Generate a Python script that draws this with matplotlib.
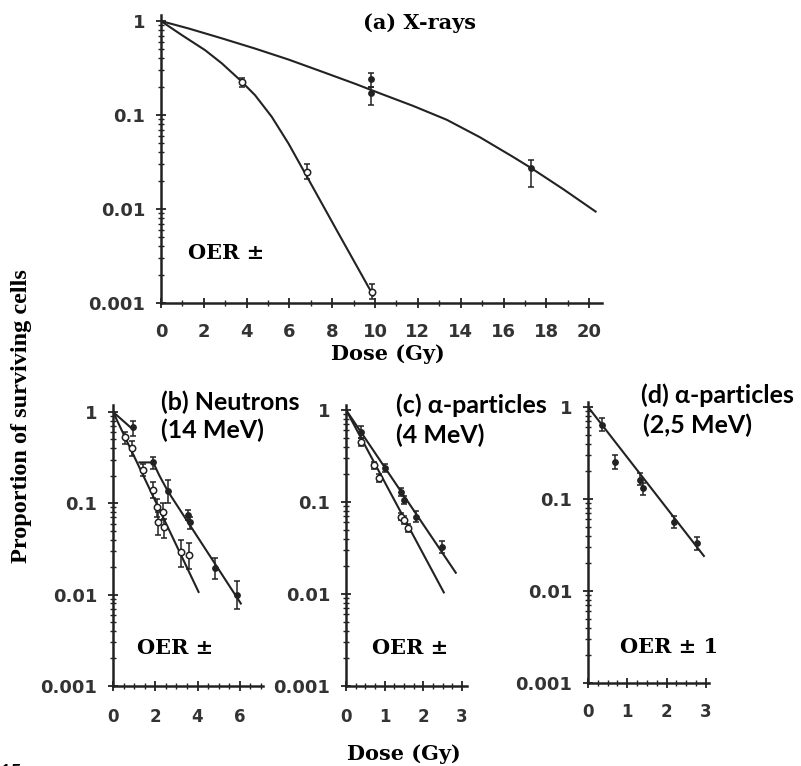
import matplotlib
matplotlib.use('Agg')
import matplotlib.pyplot as plt
from matplotlib.ticker import FixedLocator, LogLocator, MultipleLocator, NullFormatter
import numpy as np

W, H = 801, 766
INK = '#222222'

# (a) X-rays : curves
a_hyp_curve_x = [0, 1.28, 2.84, 4.39, 5.95, 7.51, 9.07, 10.23, 11.78, 13.35, 14.9, 16.45, 17.3, 18.8, 20.3]
a_hyp_curve_y = [1, 0.835, 0.655, 0.51, 0.39, 0.29, 0.215, 0.17, 0.125, 0.089, 0.058, 0.0358, 0.0272,
                 0.0162, 0.0094]
a_oxy_curve_x = [0, 0.97, 2.06, 2.84, 3.69, 4.39, 5.17, 5.95, 6.73, 7.51, 8.29, 9.07, 9.69, 9.92]
a_oxy_curve_y = [1, 0.71, 0.49, 0.355, 0.236, 0.163, 0.096, 0.05, 0.024, 0.0115, 0.0055, 0.00265,
                 0.00148, 0.0012]
a_closed_x = [9.8, 9.8, 17.3]
a_closed_y = [0.24, 0.17, 0.027]
a_closed_lo = [0.20, 0.127, 0.017]
a_closed_hi = [0.28, 0.20, 0.033]
a_open_x = [3.79, 6.82, 9.86]
a_open_y = [0.224, 0.025, 0.0013]
a_open_lo = [0.20, 0.021, 0.0011]
a_open_hi = [0.25, 0.03, 0.0016]

# (b) neutrons 14 MeV
b_closed_line1_x = [0, 0.95]
b_closed_line1_y = [1, 0.64]
b_closed_line2_x = [1.25, 1.9, 2.2, 2.6, 6.05]
b_closed_line2_y = [0.28, 0.28, 0.2, 0.135, 0.008]
b_open_line_x = [0, 4.05]
b_open_line_y = [1, 0.0107]
b_closed_x = [0.95, 1.9, 2.6, 3.55, 3.65, 4.85, 5.85]
b_closed_y = [0.68, 0.28, 0.135, 0.074, 0.062, 0.0195, 0.0100]
b_closed_lo = [0.55, 0.24, 0.10, 0.065, 0.052, 0.015, 0.007]
b_closed_hi = [0.80, 0.32, 0.18, 0.085, 0.070, 0.025, 0.014]
b_open_x = [0.55, 0.9, 1.4, 1.9, 2.1, 2.15, 2.35, 2.4, 3.2, 3.6]
b_open_y = [0.53, 0.40, 0.23, 0.14, 0.09, 0.062, 0.08, 0.055, 0.029, 0.027]
b_open_lo = [0.45, 0.33, 0.20, 0.115, 0.07, 0.045, 0.065, 0.042, 0.020, 0.019]
b_open_hi = [0.60, 0.48, 0.27, 0.17, 0.11, 0.08, 0.10, 0.068, 0.040, 0.037]

# (c) alpha 4 MeV
c_closed_line_x = [0, 2.84]
c_closed_line_y = [1, 0.017]
c_open_line_x = [0, 2.53]
c_open_line_y = [1, 0.0104]
c_closed_x = [0.39, 1.0, 1.42, 1.5, 1.81, 2.48]
c_closed_y = [0.58, 0.234, 0.128, 0.105, 0.069, 0.0325]
c_closed_lo = [0.50, 0.21, 0.115, 0.095, 0.06, 0.028]
c_closed_hi = [0.67, 0.26, 0.14, 0.115, 0.08, 0.038]
c_open_x = [0.39, 0.72, 0.85, 1.42, 1.5, 1.6]
c_open_y = [0.45, 0.25, 0.18, 0.069, 0.064, 0.052]
c_open_lo = [0.41, 0.23, 0.165, 0.063, 0.058, 0.047]
c_open_hi = [0.50, 0.27, 0.20, 0.075, 0.070, 0.057]

# (d) alpha 2,5 MeV
d_line_x = [0, 2.95]
d_line_y = [1, 0.024]
d_x = [0.36, 0.69, 1.32, 1.4, 2.19, 2.77]
d_y = [0.64, 0.25, 0.16, 0.13, 0.056, 0.033]
d_lo = [0.55, 0.21, 0.14, 0.11, 0.048, 0.028]
d_hi = [0.75, 0.30, 0.19, 0.15, 0.066, 0.039]

ytick_vals = [0.001, 0.01, 0.1, 1]
ytick_labels = ['0.001', '0.01', '0.1', '1']

fig = plt.figure(figsize=(8.01, 7.66), dpi=100)


def px_axes(left, top, right, bottom):
    return fig.add_axes([left / W, 1 - bottom / H, (right - left) / W, (bottom - top) / H])


def ftext(x, y, s, **kw):
    fig.text(x / W, 1 - y / H, s, **kw)


def style(ax, ytop, xmax, xmajor, xminor, xfs, xpad):
    ax.set_yscale('log')
    ax.set_ylim(0.001, ytop)
    ax.set_xlim(0, xmax)
    for s in ['top', 'right']:
        ax.spines[s].set_visible(False)
    for s in ['left', 'bottom']:
        ax.spines[s].set_linewidth(1.8)
        ax.spines[s].set_color(INK)
    ax.yaxis.set_major_locator(FixedLocator(ytick_vals))
    ax.set_yticklabels(ytick_labels)
    ax.yaxis.set_minor_locator(LogLocator(base=10, subs=np.arange(2, 10)))
    ax.yaxis.set_minor_formatter(NullFormatter())
    ax.xaxis.set_major_locator(MultipleLocator(xmajor))
    ax.xaxis.set_minor_locator(MultipleLocator(xminor))
    ax.tick_params(which='major', direction='inout', length=7, width=1.3, color=INK,
                   labelcolor='#333333', labelsize=13, pad=8)
    ax.tick_params(which='minor', direction='inout', length=4, width=1.0, color=INK)
    ax.tick_params(axis='x', which='major', labelsize=xfs, pad=xpad)
    for lab in ax.get_xticklabels() + ax.get_yticklabels():
        lab.set_fontweight('bold')
    ax.patch.set_alpha(0)


def dots(ax, x, y, lo, hi, filled):
    y = np.array(y)
    err = [y - np.array(lo), np.array(hi) - y]
    ax.errorbar(x, y, yerr=err, fmt='o', ms=3.8 if filled else 4.6,
                mfc=INK if filled else 'white', mec=INK, mew=1.1,
                ecolor=INK, elinewidth=1.1, capsize=2, capthick=1.0, zorder=3)


lw = 1.5

# panel (a)
ax_a = px_axes(161, 15, 602, 303)
style(ax_a, 1.16, 20.6, 2, 1, 13, 11)
ax_a.plot(a_hyp_curve_x, a_hyp_curve_y, color=INK, lw=lw)
ax_a.plot(a_oxy_curve_x, a_oxy_curve_y, color=INK, lw=lw)
dots(ax_a, a_closed_x, a_closed_y, a_closed_lo, a_closed_hi, True)
dots(ax_a, a_open_x, a_open_y, a_open_lo, a_open_hi, False)

# panel (b)
ax_b = px_axes(113, 405, 263, 686)
style(ax_b, 1.19, 7.1, 2, 0.5, 12, 12)
ax_b.plot(b_closed_line1_x, b_closed_line1_y, color=INK, lw=lw)
ax_b.plot(b_closed_line2_x, b_closed_line2_y, color=INK, lw=lw)
ax_b.plot(b_open_line_x, b_open_line_y, color=INK, lw=lw)
dots(ax_b, b_closed_x, b_closed_y, b_closed_lo, b_closed_hi, True)
dots(ax_b, b_open_x, b_open_y, b_open_lo, b_open_hi, False)

# panel (c)
ax_c = px_axes(346, 405, 467, 686)
style(ax_c, 1.13, 3.13, 1, 0.25, 12, 12)
ax_c.plot(c_closed_line_x, c_closed_line_y, color=INK, lw=lw)
ax_c.plot(c_open_line_x, c_open_line_y, color=INK, lw=lw)
dots(ax_c, c_closed_x, c_closed_y, c_closed_lo, c_closed_hi, True)
dots(ax_c, c_open_x, c_open_y, c_open_lo, c_open_hi, False)

# panel (d)
ax_d = px_axes(588, 402, 709, 683)
style(ax_d, 1.13, 3.08, 1, 0.25, 12, 11)
ax_d.plot(d_line_x, d_line_y, color=INK, lw=lw)
dots(ax_d, d_x, d_y, d_lo, d_hi, True)

# texts
serif_b = dict(family='DejaVu Serif', weight='bold', color='black')
sans_b = dict(family=['Lato', 'DejaVu Sans'], weight='bold', color='black')

ftext(363, 23, '(a) X-rays', fontsize=15, ha='left', va='center', **serif_b)
ftext(188, 253, 'OER ±', fontsize=15, ha='left', va='center', **serif_b)
ftext(388, 354, 'Dose (Gy)', fontsize=15, ha='center', va='center', **serif_b)

ftext(161, 402, '(b) Neutrons', fontsize=18, ha='left', va='center', **sans_b)
ftext(161, 430, '(14 MeV)', fontsize=18, ha='left', va='center', **sans_b)
ftext(396, 405, '(c) α-particles', fontsize=18, ha='left', va='center', **sans_b)
ftext(396, 435, '(4 MeV)', fontsize=18, ha='left', va='center', **sans_b)
ftext(641, 395, '(d) α-particles', fontsize=18, ha='left', va='center', **sans_b)
ftext(643, 425, '(2,5 MeV)', fontsize=18, ha='left', va='center', **sans_b)

ftext(137, 648, 'OER ±', fontsize=15, ha='left', va='center', **serif_b)
ftext(372, 648, 'OER ±', fontsize=15, ha='left', va='center', **serif_b)
ftext(620, 647, 'OER ± 1', fontsize=15, ha='left', va='center', **serif_b)

ftext(404, 754, 'Dose (Gy)', fontsize=15, ha='center', va='center', **serif_b)

ftext(22, 416, 'Proportion of surviving cells', fontsize=17.5, rotation=90,
      ha='center', va='center', family='Liberation Serif', weight='bold', color='black')

# page number cut off at the bottom edge
ftext(0, 772, '15', fontsize=14, ha='left', va='center', **sans_b)

fig.savefig('out.png', dpi=100, facecolor='white')
